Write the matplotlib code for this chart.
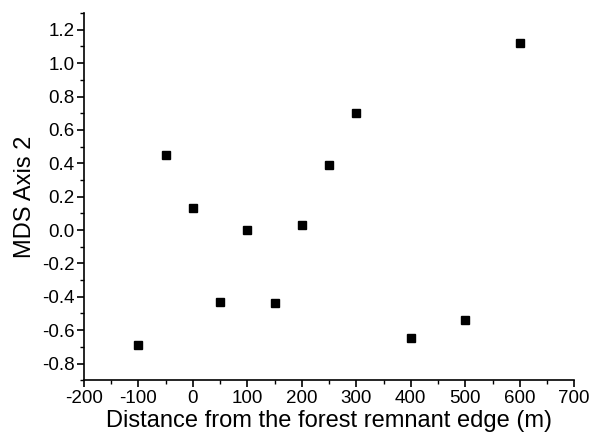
import numpy as np
import matplotlib.pyplot as plt
from matplotlib.ticker import MultipleLocator, FormatStrFormatter

plt.rcParams['font.family'] = ['Liberation Sans', 'DejaVu Sans']
plt.rcParams['axes.unicode_minus'] = False

# distance from the forest remnant edge (m) vs MDS axis 2 scores
distance = [-100, -50, 0, 50, 100, 150, 200, 250, 300, 400, 500, 600]
mds2 = [-0.69, 0.45, 0.13, -0.43, 0.00, -0.44, 0.03, 0.39, 0.70, -0.65, -0.54, 1.12]

fig = plt.figure(figsize=(6, 4.37), dpi=100)
ax = fig.add_axes([0.14, 0.13, 0.817, 0.84])

ax.plot(distance, mds2, 's', color='black', markersize=5.8, linestyle='none')

ax.set_xlim(-200, 700)
ax.set_ylim(-0.9, 1.3)
ax.xaxis.set_major_locator(MultipleLocator(100))
ax.xaxis.set_minor_locator(MultipleLocator(50))
ax.yaxis.set_major_locator(MultipleLocator(0.2))
ax.yaxis.set_minor_locator(MultipleLocator(0.1))
ax.yaxis.set_major_formatter(FormatStrFormatter('%.1f'))

for s in ['top', 'right']:
    ax.spines[s].set_visible(False)
for s in ['left', 'bottom']:
    ax.spines[s].set_linewidth(1.2)

ax.tick_params(which='major', direction='out', length=5, width=1.2, labelsize=13.5, pad=2)
ax.tick_params(which='minor', direction='out', length=3, width=1.0)

ax.set_xlabel("Distance from the forest remnant edge (m)", fontsize=17, labelpad=2)
ax.set_ylabel("MDS Axis 2", fontsize=17, labelpad=4)

fig.savefig("out.png", dpi=100)
